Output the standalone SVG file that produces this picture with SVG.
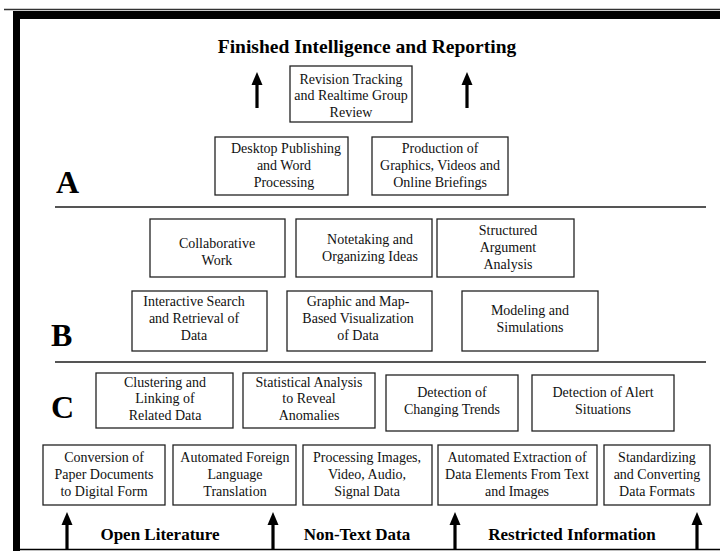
<svg xmlns="http://www.w3.org/2000/svg" width="720" height="551" viewBox="0 0 720 551">
<defs>
<style>
.box{fill:#fff;stroke:#222;stroke-width:1.3}
.t{font-family:"Liberation Serif","Times New Roman",serif;font-size:14px;fill:#111;text-anchor:middle}
.h{font-family:"Liberation Serif","Times New Roman",serif;font-weight:bold;fill:#000;text-anchor:middle}
.sec{font-family:"Liberation Serif","Times New Roman",serif;font-weight:bold;font-size:32px;fill:#000}
.rule{stroke:#555;stroke-width:2}
.shaft{stroke:#000;stroke-width:3.2}
.head{fill:#000}
</style>
<path id="arr" d="M0,0 L5.5,13 L-5.5,13 Z"/>
</defs>
<rect width="720" height="551" fill="#fff"/>
<g id="frame">
<line x1="4" y1="9.5" x2="720" y2="9.5" stroke="#333" stroke-width="1.5"/>
<rect x="13" y="11" width="707" height="8" fill="#000"/>
<rect x="13" y="11" width="7" height="540" fill="#000"/>
<line x1="13" y1="549.5" x2="720" y2="549.5" stroke="#000" stroke-width="1.5"/>
<line class="rule" x1="55" y1="207" x2="706" y2="207"/>
<line class="rule" x1="55" y1="362" x2="706" y2="362"/>
</g>
<g id="labels">
<text class="h" x="367" y="53" font-size="19.5">Finished Intelligence and Reporting</text>
<text class="sec" x="56" y="193">A</text>
<text class="sec" x="51" y="346">B</text>
<text class="sec" x="51" y="418">C</text>
<text class="h" x="160" y="540" font-size="17">Open Literature</text>
<text class="h" x="357" y="540" font-size="17">Non-Text Data</text>
<text class="h" x="572" y="540" font-size="17">Restricted Information</text>
</g>
<g id="connectors">
<line class="shaft" x1="257" y1="108" x2="257" y2="82"/><use href="#arr" class="head" x="257" y="72"/>
<line class="shaft" x1="467" y1="108" x2="467" y2="82"/><use href="#arr" class="head" x="467" y="72"/>
<line class="shaft" x1="67" y1="549" x2="67" y2="522"/><use href="#arr" class="head" x="67" y="512"/>
<line class="shaft" x1="273" y1="549" x2="273" y2="522"/><use href="#arr" class="head" x="273" y="512"/>
<line class="shaft" x1="455" y1="549" x2="455" y2="522"/><use href="#arr" class="head" x="455" y="512"/>
<line class="shaft" x1="697" y1="549" x2="697" y2="522"/><use href="#arr" class="head" x="697" y="512"/>
</g>
<g id="revision"><rect class="box" x="290" y="66" width="122" height="56"/>
<text class="t" x="351" y="84">Revision Tracking</text><text class="t" x="351" y="100">and Realtime Group</text><text class="t" x="351" y="117">Review</text></g>
<g id="desktop"><rect class="box" x="215" y="137" width="133" height="58"/>
<text class="t" x="286" y="153">Desktop Publishing</text><text class="t" x="284" y="170">and Word</text><text class="t" x="284" y="187">Processing</text></g>
<g id="production"><rect class="box" x="372" y="137" width="136" height="58"/>
<text class="t" x="440" y="153">Production of</text><text class="t" x="440" y="170">Graphics, Videos and</text><text class="t" x="440" y="187">Online Briefings</text></g>
<g id="collab"><rect class="box" x="150" y="219" width="135" height="58"/>
<text class="t" x="217" y="248">Collaborative</text><text class="t" x="217" y="265">Work</text></g>
<g id="notetaking"><rect class="box" x="296" y="219" width="136" height="58"/>
<text class="t" x="370" y="244">Notetaking and</text><text class="t" x="370" y="261">Organizing Ideas</text></g>
<g id="structured"><rect class="box" x="437" y="219" width="137" height="58"/>
<text class="t" x="508" y="235">Structured</text><text class="t" x="508" y="252">Argument</text><text class="t" x="508" y="269">Analysis</text></g>
<g id="search"><rect class="box" x="132" y="291" width="135" height="60"/>
<text class="t" x="194" y="306">Interactive Search</text><text class="t" x="194" y="323">and Retrieval of</text><text class="t" x="194" y="340">Data</text></g>
<g id="mapvis"><rect class="box" x="287" y="291" width="145" height="60"/>
<text class="t" x="358" y="306">Graphic and Map-</text><text class="t" x="358" y="323">Based Visualization</text><text class="t" x="358" y="340">of Data</text></g>
<g id="modeling"><rect class="box" x="462" y="291" width="136" height="60"/>
<text class="t" x="530" y="315">Modeling and</text><text class="t" x="530" y="332">Simulations</text></g>
<g id="clustering"><rect class="box" x="96" y="373" width="137" height="55"/>
<text class="t" x="165" y="387">Clustering and</text><text class="t" x="165" y="403">Linking of</text><text class="t" x="165" y="420">Related Data</text></g>
<g id="statistical"><rect class="box" x="243" y="373" width="132" height="55"/>
<text class="t" x="309" y="387">Statistical Analysis</text><text class="t" x="309" y="403">to Reveal</text><text class="t" x="309" y="420">Anomalies</text></g>
<g id="trends"><rect class="box" x="386" y="375" width="132" height="56"/>
<text class="t" x="452" y="397">Detection of</text><text class="t" x="452" y="414">Changing Trends</text></g>
<g id="alert"><rect class="box" x="532" y="375" width="142" height="56"/>
<text class="t" x="603" y="397">Detection of Alert</text><text class="t" x="603" y="414">Situations</text></g>
<g id="conversion"><rect class="box" x="43" y="445" width="122" height="60"/>
<text class="t" x="104" y="462">Conversion of</text><text class="t" x="104" y="479">Paper Documents</text><text class="t" x="104" y="496">to Digital Form</text></g>
<g id="translation"><rect class="box" x="173" y="445" width="123" height="60"/>
<text class="t" x="235" y="462">Automated Foreign</text><text class="t" x="235" y="479">Language</text><text class="t" x="235" y="496">Translation</text></g>
<g id="processing"><rect class="box" x="303" y="445" width="129" height="60"/>
<text class="t" x="367" y="462">Processing Images,</text><text class="t" x="367" y="479">Video, Audio,</text><text class="t" x="367" y="496">Signal Data</text></g>
<g id="extraction"><rect class="box" x="438" y="445" width="159" height="60"/>
<text class="t" x="517" y="462">Automated Extraction of</text><text class="t" x="517" y="479">Data Elements From Text</text><text class="t" x="517" y="496">and Images</text></g>
<g id="standardizing"><rect class="box" x="604" y="445" width="106" height="60"/>
<text class="t" x="657" y="462">Standardizing</text><text class="t" x="657" y="479">and Converting</text><text class="t" x="657" y="496">Data Formats</text></g>
</svg>
